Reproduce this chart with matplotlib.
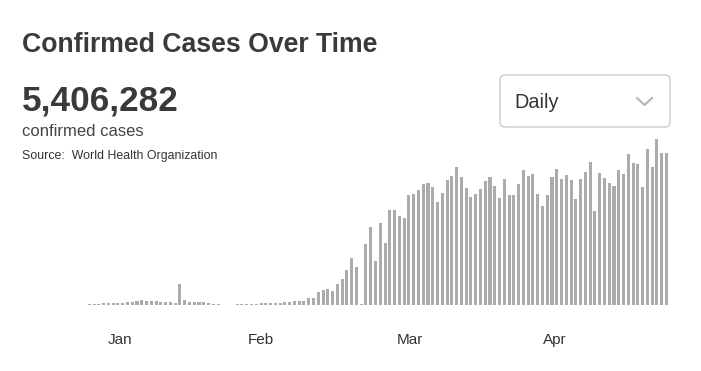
import numpy as np
import matplotlib
matplotlib.use("Agg")
import matplotlib.pyplot as plt
from matplotlib.patches import FancyBboxPatch

plt.rcParams['font.family'] = ['Liberation Sans', 'DejaVu Sans']

# daily confirmed cases (relative units)
daily = [0.3, 0.3, 0.5, 0.8, 1.2, 1.5, 2, 2, 2, 2.2,
         2.5, 2.8, 3.5, 4, 4.8, 4.3, 3.8, 3.8, 3.5, 3.5,
         3.2, 2.5, 21.5, 5.5, 3.2, 3, 2.8, 2.8, 2.5, 0.8,
         0.6, 0.5, 0.5, 0.5, 0.8, 1, 1.2, 1.5, 1.5, 2,
         2, 2.2, 2.5, 2.5, 3, 3.5, 3.8, 4, 4.2, 7.5,
         7.5, 13, 15.3, 16.3, 14, 21.3, 25.7, 35, 47, 38,
         1, 61, 78.3, 44, 82.3, 61.7, 95, 95, 89.3, 87,
         109.7, 110.7, 115, 121, 122.3, 117.7, 103.3, 111.7, 125, 129,
         137.7, 128.3, 116.7, 108.3, 111, 116.3, 124, 128.3, 119, 106.7,
         126, 109.7, 110, 120.7, 134.7, 129, 131.3, 110.7, 99, 109.7,
         128, 136.3, 126.3, 129.7, 125, 105.7, 126.3, 133, 143.3, 94,
         132.3, 126.7, 122.3, 119, 134.7, 130.7, 150.7, 142.3, 140.7, 118.3,
         155.7, 138, 166.3, 152.3, 152.3]
month_pos = [9.5, 38.9, 70.2, 100.5]
month_labels = ['Jan', 'Feb', 'Mar', 'Apr']

title = 'Confirmed Cases Over Time'
total = '5,406,282'
total_label = 'confirmed cases'
source = 'Source:  World Health Organization'
period = 'Daily'

W, H = 701, 371
fig = plt.figure(figsize=(W / 100, H / 100), dpi=100)

# overlay in pixel coords for the header + dropdown
ov = fig.add_axes([0, 0, 1, 1])
ov.set_xlim(0, W)
ov.set_ylim(H, 0)
ov.axis('off')

ov.text(22, 52, title, fontsize=19.2, fontweight='bold', color='#3a3a3a', va='baseline')
ov.text(22, 110.5, total, fontsize=25.3, fontweight='bold', color='#3a3a3a', va='baseline')
ov.text(22, 136.5, total_label, fontsize=12, color='#444444', va='baseline')
ov.text(22, 159, source, fontsize=8.9, color='#333333', va='baseline')

box = FancyBboxPatch((500, 75), 170, 52, boxstyle='round,pad=0,rounding_size=5',
                     fc='white', ec='#cccccc', lw=1)
ov.add_patch(box)
ov.text(514, 108.3, period, fontsize=14.3, color='#333333', va='baseline')
ov.plot([637, 644.5, 652], [98, 105, 98], color='#b5b5b5', lw=1.5)

# bar chart
px = 4.77
left = 75 - px
ax = fig.add_axes([left / W, (H - 305) / H, 127 * px / W, 170 / H])
ax.set_xlim(-1, 126)
ax.set_ylim(0, 170)

x = np.arange(len(daily))
ax.bar(x, daily, width=0.64, color='#ababad', linewidth=0)

ax.set_xticks(month_pos)
ax.set_xticklabels(month_labels, fontsize=11, color='#333333')
ax.tick_params(axis='x', length=0, pad=20)
ax.set_yticks([])
for s in ax.spines.values():
    s.set_visible(False)
ax.patch.set_alpha(0)

fig.savefig('out.png', dpi=100)
